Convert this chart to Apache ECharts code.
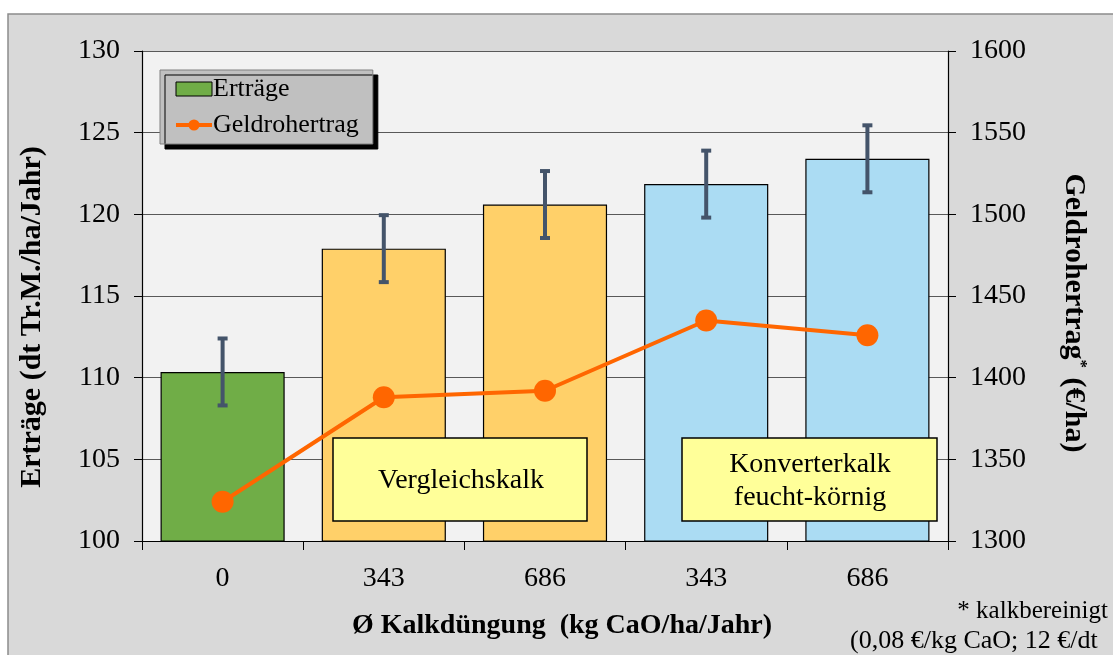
<!DOCTYPE html>
<html><head><meta charset="utf-8">
<script src="https://cdn.jsdelivr.net/npm/echarts@6/dist/echarts.min.js"></script>
<style>html,body{margin:0;padding:0;background:#fff}#c{width:1113px;height:655px}</style>
</head><body><div id="c"></div>
<script>
const doses = ["0", "343", "686", "343", "686"];
const yields = [110.35, 117.9, 120.6, 121.85, 123.4];
const yieldErr = [2.05, 2.05, 2.05, 2.05, 2.05];
const revenue = [1324, 1388, 1392, 1435, 1426];
const barColors = ["#70ad47", "#ffd069", "#ffd069", "#abdcf3", "#abdcf3"];
const leftTicks = [100, 130, 5];
const rightTicks = [1300, 1600, 50];

const serif = '"Liberation Serif", "DejaVu Serif", serif';
const chart = echarts.init(document.getElementById('c'));
chart.setOption({
  animation: false,
  backgroundColor: '#ffffff',
  textStyle: { fontFamily: serif },
  graphic: [
    { type: 'rect', z: -10, shape: { x: 8, y: 14, width: 1120, height: 660 },
      style: { fill: '#d9d9d9', stroke: '#8c8c8c', lineWidth: 1.5 } },
    { type: 'rect', z: 100, shape: { x: 333, y: 438, width: 254, height: 83 }, style: { fill: '#ffff99', stroke: '#000', lineWidth: 1.5 } },
    { type: 'text', z: 101, style: { x: 461, y: 481, text: 'Vergleichskalk', fill: '#000', font: '28px ' + serif, align: 'center', verticalAlign: 'middle' } },
    { type: 'rect', z: 100, shape: { x: 682, y: 438, width: 255, height: 83 }, style: { fill: '#ffff99', stroke: '#000', lineWidth: 1.5 } },
    { type: 'text', z: 101, style: { x: 810, y: 481, text: 'Konverterkalk\nfeucht-körnig', fill: '#000', font: '28px ' + serif, lineHeight: 33, align: 'center', verticalAlign: 'middle' } },
    { type: 'text', z: 101, style: { x: 1108, y: 611, text: '* kalkbereinigt', fill: '#000', font: '25px ' + serif, align: 'right', verticalAlign: 'middle' } },
    { type: 'text', z: 101, style: { x: 850, y: 641, text: '(0,08 €/kg CaO; 12 €/dt', fill: '#000', font: '26px ' + serif, verticalAlign: 'middle' } },
    { type: 'text', z: 101, x: 32, y: 317, rotation: Math.PI / 2,
      style: { text: 'Erträge (dt Tr.M./ha/Jahr)', fill: '#000', font: 'bold 30px ' + serif, align: 'center', verticalAlign: 'middle' } },
    { type: 'text', z: 101, x: 1074, y: 313, rotation: -Math.PI / 2,
      style: { text: 'Geldrohertrag{sup|*} (€/ha)', fill: '#000', font: 'bold 30px ' + serif, align: 'center', verticalAlign: 'middle',
        rich: { sup: { fontSize: 17, fontWeight: 'bold', fontFamily: serif, verticalAlign: 'top', padding: [0, 2, 12, 0] } } } },
    { type: 'text', z: 101, x: 562, y: 626,
      style: { text: 'Ø Kalkdüngung  (kg CaO/ha/Jahr)', fill: '#000', font: 'bold 28px ' + serif, align: 'center', verticalAlign: 'middle' } }
  ],
  legend: {
    left: 160, top: 70, width: 200,
    orient: 'vertical',
    padding: [6, 14, 6, 14],
    itemGap: 10,
    itemWidth: 36, itemHeight: 14,
    backgroundColor: '#c0c0c0',
    borderColor: '#808080', borderWidth: 1,
    shadowColor: '#000', shadowBlur: 0, shadowOffsetX: 5, shadowOffsetY: 5,
    textStyle: { fontSize: 26, fontFamily: serif, color: '#000', padding: [0, 0, 0, -4] },
    data: [
      { name: 'Erträge', icon: 'rect', itemStyle: { color: '#70ad47', borderColor: '#000', borderWidth: 1 } },
      { name: 'Geldrohertrag', lineStyle: { width: 4 } }
    ]
  },
  grid: { left: 142, right: 165, top: 51, bottom: 114, show: true, backgroundColor: '#f2f2f2', borderWidth: 0,
    outerBoundsMode: 'none', containLabel: false },
  xAxis: {
    type: 'category', data: doses,
    axisLine: { lineStyle: { color: '#000', width: 1.2 } },
    axisTick: { show: true, length: 9, lineStyle: { color: '#000' } },
    axisLabel: { fontSize: 28, color: '#000', margin: 24, fontFamily: serif }
  },
  yAxis: [
    {
      type: 'value', min: leftTicks[0], max: leftTicks[1], interval: leftTicks[2],
      axisLine: { show: true, lineStyle: { color: '#000', width: 1.2 } },
      axisTick: { show: true, length: 8, lineStyle: { color: '#000' } },
      axisLabel: { fontSize: 28, color: '#000', margin: 22, fontFamily: serif },
      splitLine: { show: true, lineStyle: { color: '#595959', width: 1.2 } }
    },
    {
      type: 'value', min: rightTicks[0], max: rightTicks[1], interval: rightTicks[2],
      axisLine: { show: true, lineStyle: { color: '#000', width: 1.2 } },
      axisTick: { show: true, length: 8, lineStyle: { color: '#000' } },
      axisLabel: { fontSize: 28, color: '#000', margin: 22, fontFamily: serif, formatter: v => String(v) },
      splitLine: { show: false }
    }
  ],
  series: [
    {
      name: 'Erträge', type: 'bar', yAxisIndex: 0, barWidth: '77%',
      data: yields.map((v, i) => ({ value: v, itemStyle: { color: barColors[i] } })),
      itemStyle: { borderColor: '#000', borderWidth: 1.2 },
      z: 2
    },
    {
      name: 'err', type: 'custom', yAxisIndex: 0, z: 3,
      data: yields.map((v, i) => [i, v - yieldErr[i], v + yieldErr[i]]),
      renderItem: function (params, api) {
        const lo = api.coord([api.value(0), api.value(1)]);
        const hi = api.coord([api.value(0), api.value(2)]);
        const w = 5;
        const st = { stroke: '#44546a', lineWidth: 4 };
        return { type: 'group', children: [
          { type: 'line', shape: { x1: lo[0], y1: lo[1], x2: hi[0], y2: hi[1] }, style: st },
          { type: 'line', shape: { x1: lo[0] - w, y1: lo[1], x2: lo[0] + w, y2: lo[1] }, style: st },
          { type: 'line', shape: { x1: hi[0] - w, y1: hi[1], x2: hi[0] + w, y2: hi[1] }, style: st }
        ]};
      }
    },
    {
      name: 'Geldrohertrag', type: 'line', yAxisIndex: 1, z: 10,
      data: revenue,
      symbol: 'circle', symbolSize: 22,
      lineStyle: { color: '#ff6600', width: 4 },
      itemStyle: { color: '#ff6600' }
    }
  ]
});
</script></body></html>
